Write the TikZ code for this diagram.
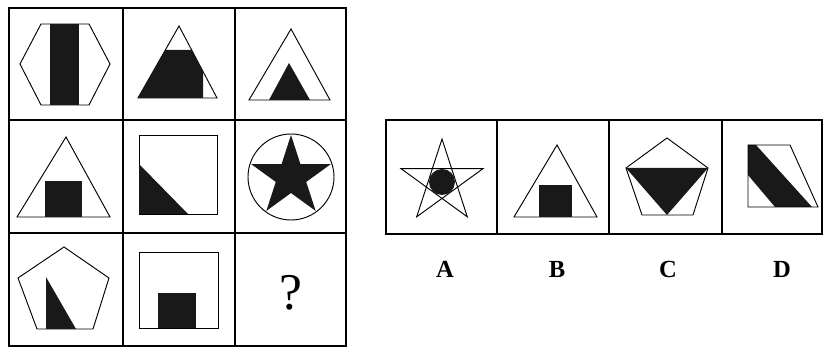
\documentclass[tikz,border=0pt]{standalone}
\usepackage{fontspec}
\setmainfont{Liberation Serif}
\usepackage{tikz}

\begin{document}
\begin{tikzpicture}[x=0.03cm,y=-0.03cm,
  outline/.style={draw,line width=0.8pt,line join=miter},
  solid black/.style={fill=black!90},
  frame/.style={draw,line width=2.2pt},
  divider/.style={draw,line width=1.4pt},
  letter/.style={font=\fontsize{21}{24}\selectfont\bfseries}]
\useasboundingbox (0,0) rectangle (827,349);
% left grid
\draw[divider] (123,8) -- (123,346) (235,8) -- (235,346);
\draw[divider] (9,120) -- (346,120) (9,233) -- (346,233);
\draw[frame] (9,8) rectangle (346,346);
% row 1: hexagon with bar
\draw[outline] (41,24) -- (89,24) -- (110,64) -- (89,105) -- (41,105) -- (20,64) -- cycle;
\fill[solid black] (50,24) rectangle (79,105);
% row 1: triangle with cut trapezoid
\draw[outline] (179,26) -- (217,98) -- (138,98) -- cycle;
\fill[solid black] (165.3,50) -- (191.7,50) -- (203,71.5) -- (203,98) -- (138,98) -- cycle;
% row 1: triangle in triangle
\draw[outline] (291,29) -- (330,100) -- (249,100) -- cycle;
\fill[solid black] (289,63) -- (310,100) -- (269,100) -- cycle;
% row 2: triangle with square
\draw[outline] (66,137) -- (110,217) -- (17,217) -- cycle;
\fill[solid black] (45,181) rectangle (82,217);
% row 2: square with corner
\draw[outline] (139,135) rectangle (217,214);
\fill[solid black] (139,164) -- (188,214) -- (139,214) -- cycle;
% row 2: star in circle
\draw[outline] (291,177) circle (43);
\fill[solid black,shift={(291,177)}] (-90:42)
  \foreach \a in {0,72,144,216,288}{ -- (-54+\a:16) -- (-18+\a:42)} -- cycle;
% row 3: pentagon with wedge
\draw[outline] (64,247) -- (109,278) -- (93,329) -- (37,329) -- (18,278) -- cycle;
\fill[solid black] (46,277) -- (76,329) -- (46,329) -- cycle;
% row 3: square with square
\draw[outline] (139,252) rectangle (218,328);
\fill[solid black] (158,293) rectangle (196,328);
% row 3: question
\node[font=\fontsize{44}{48}\selectfont] (qmark) at (291,293) {?};

% options
\draw[divider] (497,120) -- (497,234) (609,120) -- (609,234) (722,120) -- (722,234);
\draw[frame] (386,120) rectangle (822,234);
% option A: pentagram with dot
\draw[outline,shift={(442,182)}] (-90:43) -- (54:43) -- (198:43) -- (-18:43) -- (126:43) -- cycle;
\fill[solid black] (442,182) circle (13);
% option B: triangle with square
\draw[outline] (557,145) -- (597,217) -- (514,217) -- cycle;
\fill[solid black] (539,185) rectangle (572,217);
% option C: pentagon with triangle
\draw[outline] (667,138) -- (708,168) -- (693,215) -- (642,215) -- (626,168) -- cycle;
\fill[solid black] (626,168) -- (708,168) -- (667,215) -- cycle;
% option D: trapezoid with band
\fill[solid black] (748,145) -- (756,145) -- (812,207) -- (775,207) -- (748,175) -- cycle;
\draw[outline] (748,145) -- (790,145) -- (818,207) -- (748,207) -- cycle;
% labels
\node[letter] (labA) at (445,269) {A};
\node[letter] (labB) at (557,269) {B};
\node[letter] (labC) at (668,269) {C};
\node[letter] (labD) at (782,269) {D};
\end{tikzpicture}
\end{document}
